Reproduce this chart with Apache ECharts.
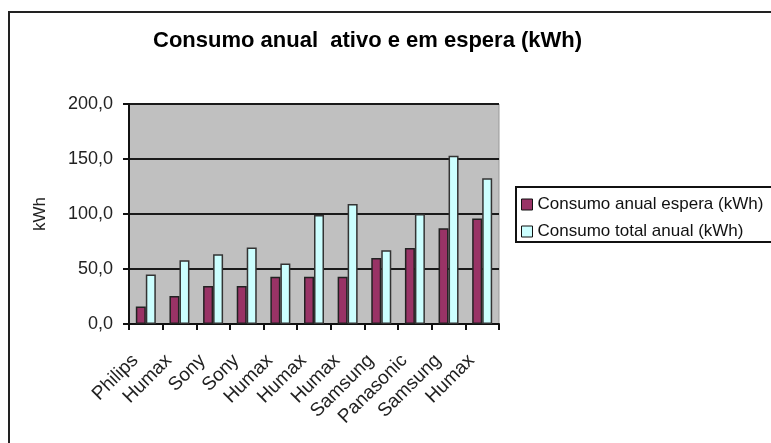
<!DOCTYPE html>
<html>
<head>
<meta charset="utf-8">
<script src="https://cdn.jsdelivr.net/npm/echarts@6/dist/echarts.min.js"></script>
<style>
  html, body { margin: 0; padding: 0; background: #fff; }
  #chart { width: 771px; height: 443px; }
</style>
</head>
<body>
<div id="chart"></div>
<script>
const titleText = 'Consumo anual  ativo e em espera (kWh)';
const categories = ['Philips', 'Humax', 'Sony', 'Sony', 'Humax', 'Humax', 'Humax', 'Samsung', 'Panasonic', 'Samsung', 'Humax'];
const seriesNames = ['Consumo anual espera (kWh)', 'Consumo total anual (kWh)'];
const esperaValues = [16, 25.5, 34.5, 34.5, 43, 43, 43, 60, 69, 87, 96];
const totalValues = [45, 58, 63.5, 69.5, 55, 99, 109, 67, 100, 153, 132.5];
const yMin = 0, yMax = 200, yStep = 50;

const chart = echarts.init(document.getElementById('chart'));
const font = 'Liberation Sans, Arial, sans-serif';

const option = {
    backgroundColor: '#fff',
    animation: false,
    textStyle: { fontFamily: font },
    title: {
        text: titleText,
        left: 153,
        top: 30,
        padding: 0,
        textStyle: { fontFamily: font, fontSize: 22, fontWeight: 'bold', color: '#000' }
    },
    legend: {
        orient: 'vertical',
        left: 521,
        top: 196,
        padding: 0,
        itemGap: 10,
        itemWidth: 11,
        itemHeight: 11,
        icon: 'rect',
        data: seriesNames,
        textStyle: { fontFamily: font, fontSize: 17, color: '#111', lineHeight: 17 },
        itemStyle: { borderColor: '#111', borderWidth: 1 }
    },
    graphic: [
        {
            type: 'rect',
            shape: { x: 9, y: 12, width: 800, height: 500 },
            style: { fill: 'none', stroke: '#222', lineWidth: 2 },
            z: 10
        },
        {
            type: 'rect',
            shape: { x: 516, y: 187, width: 300, height: 55 },
            style: { fill: 'none', stroke: '#111', lineWidth: 2 },
            z: 10
        }
    ],
    grid: {
        left: 129,
        right: 272,
        top: 104,
        bottom: 119,
        show: true,
        backgroundColor: '#c0c0c0',
        borderColor: '#999',
        borderWidth: 1
    },
    xAxis: {
        type: 'category',
        data: categories,
        axisLine: { lineStyle: { color: '#111', width: 2 } },
        axisTick: { show: true, length: 6, lineStyle: { color: '#111', width: 2 } },
        axisLabel: {
            rotate: 45,
            margin: 23,
            padding: [0, 15, 0, 0],
            fontFamily: font,
            fontSize: 19,
            color: '#222',
            interval: 0
        }
    },
    yAxis: {
        type: 'value',
        min: yMin,
        max: yMax,
        interval: yStep,
        name: 'kWh',
        nameLocation: 'middle',
        nameGap: 80,
        nameTextStyle: { fontFamily: font, fontSize: 17, color: '#222' },
        axisLine: { show: true, lineStyle: { color: '#111', width: 2 } },
        axisTick: { show: true, length: 6, lineStyle: { color: '#111', width: 2 } },
        axisLabel: {
            margin: 16,
            fontFamily: font,
            fontSize: 18,
            color: '#222',
            formatter: v => v.toFixed(1).replace('.', ',')
        },
        splitLine: { show: true, lineStyle: { color: '#1a1a1a', width: 2 } }
    },
    series: [
        {
            name: seriesNames[0],
            type: 'bar',
            data: esperaValues,
            barWidth: 10,
            barGap: '0%',
            itemStyle: { color: '#993366', borderColor: '#222', borderWidth: 1.5 }
        },
        {
            name: seriesNames[1],
            type: 'bar',
            data: totalValues,
            barWidth: 10,
            itemStyle: { color: '#ccffff', borderColor: '#333', borderWidth: 1.5 }
        }
    ]
};

chart.setOption(option);
</script>
</body>
</html>
